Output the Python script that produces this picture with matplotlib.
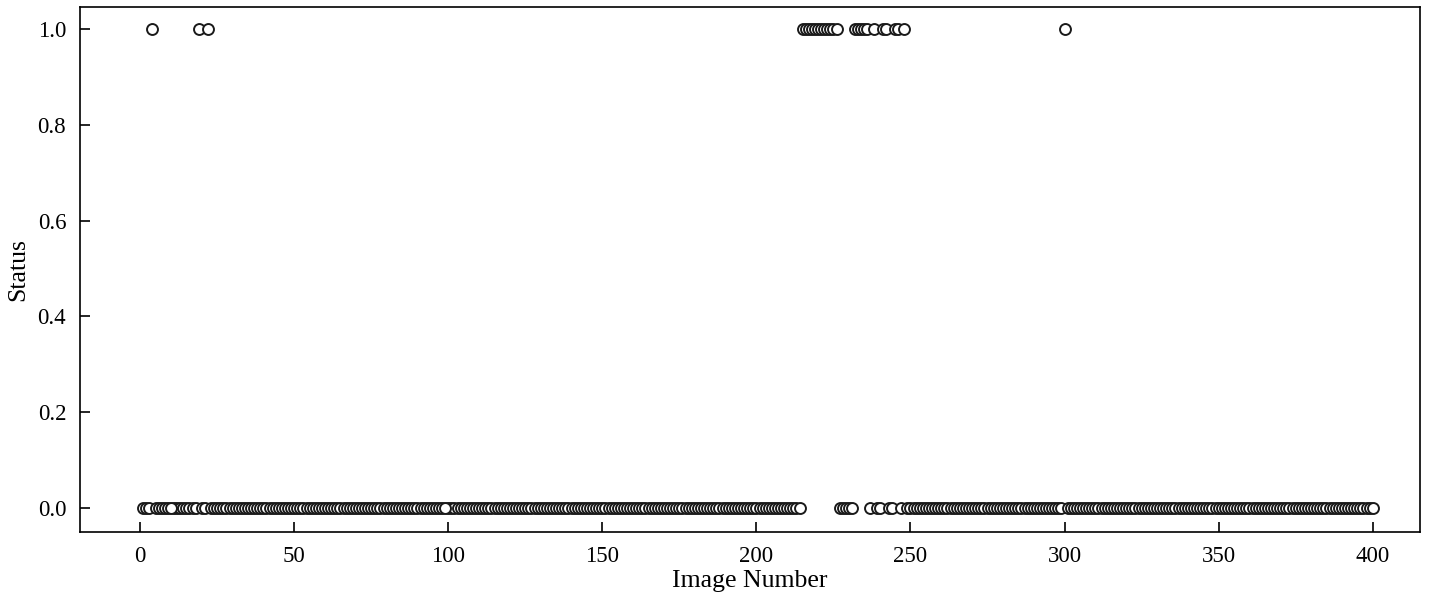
import numpy as np
import matplotlib
matplotlib.use("Agg")
import matplotlib.pyplot as plt

plt.rcParams['font.family'] = ['Liberation Serif', 'DejaVu Serif']
plt.rcParams['mathtext.fontset'] = 'stix'

# image numbers and their status (1 = flagged)
image_numbers = np.arange(1, 401)
flagged = [4, 19, 22,
           215, 216, 217, 218, 219, 220, 221, 222, 223, 224, 225, 226,
           232, 233, 234, 235, 236, 238, 241, 242, 245, 246, 248,
           300]
status = np.isin(image_numbers, flagged).astype(float)

# a few points ended up drawn last in the original (full white circles)
drawn_last = [10, 99]
order = [i for i in range(len(image_numbers)) if image_numbers[i] not in drawn_last]
order += [i for i in range(len(image_numbers)) if image_numbers[i] in drawn_last]

fig, ax = plt.subplots(figsize=(14.4, 5.99), dpi=100)
fig.subplots_adjust(left=0.0556, right=0.986, top=0.988, bottom=0.112)

for i in order:
    ax.scatter(image_numbers[i], status[i], s=62, facecolor='white',
               edgecolor='#1a1a1a', linewidth=1.4, zorder=3)

ax.set_xlim(-19.5, 415.3)
ax.set_ylim(-0.05, 1.046)
ax.set_xticks([0, 50, 100, 150, 200, 250, 300, 350, 400])
ax.set_yticks([0.0, 0.2, 0.4, 0.6, 0.8, 1.0])
ax.set_yticklabels(['0.0', '0.2', '0.4', '0.6', '0.8', '1.0'])
ax.tick_params(direction='in', length=7, width=1.2, labelsize=16.5, pad=10)
for sp in ax.spines.values():
    sp.set_linewidth(1.2)
ax.set_xlabel('Image Number', fontsize=18.5, labelpad=2)
ax.set_ylabel('Status', fontsize=18.5, labelpad=6)

fig.savefig('out.png', dpi=100)
